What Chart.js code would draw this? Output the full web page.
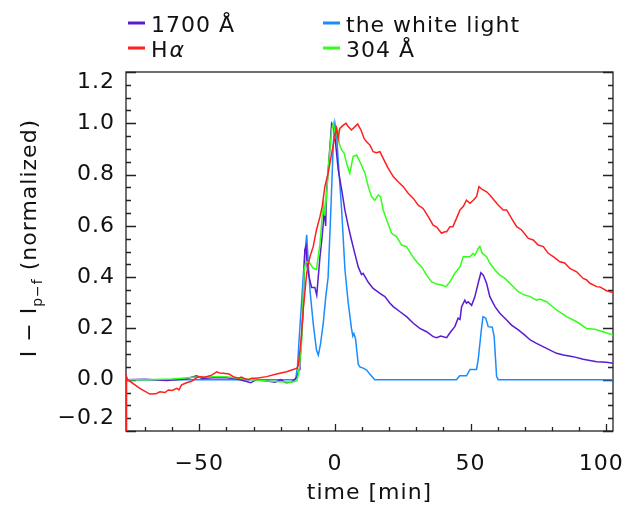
<!DOCTYPE html>
<html>
<head>
<meta charset="utf-8">
<script src="https://cdn.jsdelivr.net/npm/chart.js"></script>
<style>
  html, body { margin: 0; padding: 0; background: #fff; }
  #wrap { width: 630px; height: 508px; }
</style>
</head>
<body>
<div id="wrap"><canvas id="flare" width="630" height="508"></canvas></div>
<script>
// time [min] and normalized intensity
const t1700 = [-77, -70, -62, -55, -51, -49, -45, -40, -36, -31, -29, -25, -22, -20, -18, -16, -14, -13.2, -12.9, -11.7, -11.1, -10.6, -10.2, -9.5, -8.6, -7.4, -6.7, -5.5, -4.7, -3.9, -3.4, -3.1, -2.2, -1.2, -0.5, 0, 1.2, 2.5, 3.7, 4.9, 6.1, 7.4, 8.6, 9.8, 10.4, 12.3, 14.1, 16.6, 18.4, 20.3, 21.5, 24, 26.4, 28.9, 31.3, 33.8, 36.2, 37.5, 39, 41.2, 42.4, 44.2, 45.4, 46.1, 46.7, 47.9, 48.5, 49.1, 50.4, 51.6, 52.8, 53.8, 54.7, 55.9, 57.1, 59, 60.8, 63.3, 65.1, 67.6, 70, 72, 74.3, 78, 81.7, 84.2, 87.8, 91.5, 96.5, 100.1, 102.5];
const i1700 = [0, 0.002, -0.003, 0.003, 0.015, 0.005, 0.008, 0.008, 0.003, -0.012, 0, -0.005, -0.01, 0, -0.012, -0.01, 0.01, 0.04, 0.065, 0.27, 0.505, 0.52, 0.44, 0.40, 0.36, 0.36, 0.33, 0.48, 0.56, 0.66, 0.60, 0.73, 0.857, 1.0, 0.99, 0.95, 0.82, 0.74, 0.66, 0.60, 0.545, 0.49, 0.44, 0.41, 0.415, 0.38, 0.356, 0.337, 0.324, 0.298, 0.285, 0.265, 0.246, 0.22, 0.20, 0.187, 0.168, 0.164, 0.17, 0.164, 0.183, 0.207, 0.24, 0.235, 0.285, 0.31, 0.298, 0.304, 0.29, 0.324, 0.376, 0.417, 0.408, 0.376, 0.324, 0.285, 0.259, 0.233, 0.213, 0.194, 0.174, 0.155, 0.142, 0.122, 0.103, 0.096, 0.09, 0.08, 0.07, 0.068, 0.064];

const tWhite = [-77, -14.5, -13.8, -13.3, -12.3, -11.2, -10.4, -9.8, -9.2, -8.0, -6.8, -6.1, -5.3, -4.3, -3.4, -2.5, -1.5, -0.6, 0, 0.6, 1.2, 2.5, 3.7, 4.9, 6.1, 6.6, 7.0, 7.6, 8.6, 9.2, 10.4, 11.7, 13, 14.7, 44.8, 46, 48.5, 49.8, 52.2, 52.8, 54.1, 54.6, 55.6, 56.5, 58, 58.7, 59.6, 60.2, 102.5];
const iWhite = [0, 0, 0.05, 0.14, 0.30, 0.48, 0.565, 0.45, 0.35, 0.22, 0.116, 0.096, 0.14, 0.22, 0.32, 0.40, 0.66, 0.92, 1.0, 0.96, 0.857, 0.66, 0.43, 0.30, 0.20, 0.17, 0.18, 0.16, 0.06, 0.05, 0.045, 0.038, 0.02, 0, 0, 0.015, 0.015, 0.04, 0.04, 0.077, 0.207, 0.246, 0.24, 0.207, 0.205, 0.168, 0.012, 0, 0];

const tHalpha = [-77, -76.8, -76.4, -71.9, -68.2, -66, -64.5, -62.6, -61.4, -60, -58.3, -57.5, -56.5, -54.7, -52.8, -50.4, -48, -45.4, -43.6, -42.5, -41.2, -39, -37.5, -35.6, -34.5, -33.2, -31.9, -30.7, -28.9, -25.2, -21.5, -17.8, -15.4, -14.1, -13.5, -12.5, -11.7, -10.4, -9.2, -8.0, -6.8, -5.5, -4.7, -3.7, -2.5, -1.2, 0, 0.6, 1.2, 1.8, 3.1, 4.1, 4.9, 6.1, 7.4, 8.4, 9.6, 10.8, 11.7, 12.9, 14.1, 15.3, 16.6, 17.8, 19.6, 21.5, 23.3, 25.2, 27, 28.9, 30.7, 32.5, 34.4, 36.2, 37.5, 39.3, 40.5, 41.2, 42.4, 43.5, 44.8, 46.1, 47.3, 48.5, 49.8, 51, 52.2, 53.1, 54.3, 55.9, 57.1, 58.7, 60.2, 62, 63.3, 65.1, 67, 68.8, 71.3, 73.1, 74.9, 76.8, 78.6, 80.5, 82.9, 84.7, 86.6, 89.1, 91.5, 92.7, 94, 96.5, 97.7, 100.1, 102.5];
const iHalpha = [-0.3, 0.012, 0, -0.034, -0.056, -0.055, -0.047, -0.05, -0.04, -0.042, -0.034, -0.04, -0.02, -0.012, -0.006, 0.012, 0.01, 0.018, 0.031, 0.026, 0.025, 0.022, 0.012, 0.006, 0.01, 0.004, 0, 0.006, 0.006, 0.012, 0.022, 0.031, 0.04, 0.044, 0.055, 0.15, 0.27, 0.415, 0.48, 0.519, 0.584, 0.636, 0.675, 0.753, 0.805, 0.883, 0.948, 0.98, 0.94, 0.98, 0.993, 1.0, 0.987, 0.974, 0.987, 0.997, 0.974, 0.94, 0.928, 0.915, 0.889, 0.885, 0.889, 0.863, 0.825, 0.792, 0.772, 0.753, 0.727, 0.707, 0.681, 0.668, 0.636, 0.603, 0.595, 0.571, 0.577, 0.577, 0.597, 0.597, 0.629, 0.662, 0.675, 0.70, 0.688, 0.70, 0.714, 0.753, 0.742, 0.733, 0.72, 0.70, 0.681, 0.662, 0.662, 0.629, 0.597, 0.584, 0.551, 0.545, 0.525, 0.519, 0.493, 0.48, 0.46, 0.455, 0.434, 0.421, 0.395, 0.39, 0.376, 0.363, 0.362, 0.347, 0.34];

const t304 = [-77, -70, -60, -52, -45, -40, -35, -30, -25, -20, -16, -14, -13.3, -12.3, -11.3, -10.7, -9.2, -8.0, -6.8, -5.5, -4.7, -4.1, -3.7, -3.1, -2.2, -1.2, -0.6, 0.3, 1.0, 1.6, 2.5, 3.4, 4.3, 5.5, 6.7, 8.0, 9.2, 11.1, 12.3, 13.5, 14.7, 16.0, 16.8, 17.8, 19.1, 20.9, 22.7, 24.6, 26.4, 28.3, 30.1, 32, 33.8, 35.6, 37.5, 39.3, 40.9, 42.4, 44.2, 46.1, 47.3, 48.5, 49.8, 51, 51.6, 52.8, 53.4, 54.3, 55.9, 57.1, 59, 60.8, 62.7, 65.1, 67.6, 70, 72, 74.3, 75.5, 78, 81.7, 85.4, 89.1, 92.8, 95.8, 98.9, 102.5];
const i304 = [0, 0, 0.003, 0.01, 0.012, 0.012, 0.005, 0, -0.005, -0.008, -0.01, -0.005, 0.03, 0.142, 0.43, 0.46, 0.454, 0.434, 0.43, 0.53, 0.636, 0.688, 0.64, 0.714, 0.857, 0.974, 1.0, 0.95, 0.974, 0.92, 0.896, 0.883, 0.844, 0.805, 0.87, 0.876, 0.85, 0.805, 0.753, 0.714, 0.70, 0.72, 0.714, 0.662, 0.623, 0.571, 0.558, 0.525, 0.519, 0.486, 0.46, 0.44, 0.408, 0.382, 0.373, 0.369, 0.363, 0.382, 0.415, 0.44, 0.48, 0.48, 0.48, 0.493, 0.485, 0.512, 0.52, 0.493, 0.48, 0.454, 0.428, 0.408, 0.395, 0.369, 0.343, 0.33, 0.324, 0.31, 0.315, 0.304, 0.272, 0.246, 0.226, 0.20, 0.197, 0.187, 0.174];

const xTicks = [-50, 0, 50, 100];
const yTicks = [-0.2, 0, 0.2, 0.4, 0.6, 0.8, 1.0, 1.2];

const colors = { c1700: '#5a1cd2', white: '#1a8cff', halpha: '#ff1f1f', c304: '#33ff1a' };
const FONT = '22px "DejaVu Sans"';

function pairs(ts, vs) {
    return ts.map((t, k) => ({ x: t, y: vs[k] }));
}

function fmtNum(v, digits) {
    return v.toFixed(digits).replace('-', '\u2212');
}

// frame, inward ticks, labels, titles and legend
const decorPlugin = {
    id: 'decor',
    beforeDatasetsDraw(chart) {
        const { ctx, chartArea: a, scales: { x, y } } = chart;
        ctx.save();
        ctx.strokeStyle = '#222';
        ctx.lineWidth = 1.3;
        ctx.strokeRect(a.left, a.top, a.right - a.left, a.bottom - a.top);
        ctx.beginPath();
        for (let v = -70; v <= 100; v += 10) {
            const px = Math.round(x.getPixelForValue(v)) + 0.5;
            const len = v % 50 === 0 ? 7 : 4;
            ctx.moveTo(px, a.bottom);
            ctx.lineTo(px, a.bottom - len);
        }
        for (let k = -4; k <= 24; k++) {
            const py = Math.round(y.getPixelForValue(k * 0.05)) + 0.5;
            const len = k % 4 === 0 ? 10 : 5;
            ctx.moveTo(a.left, py);
            ctx.lineTo(a.left + len, py);
            ctx.moveTo(a.right, py);
            ctx.lineTo(a.right - len, py);
        }
        ctx.stroke();
        ctx.restore();
    },
    afterDraw(chart) {
        const { ctx, chartArea: a, scales: { x, y } } = chart;
        ctx.save();
        ctx.fillStyle = '#111';
        ctx.font = FONT;
        ctx.letterSpacing = '1px';

        // y tick labels (the end ones sit inside the box like the original)
        ctx.textAlign = 'right';
        ctx.textBaseline = 'middle';
        yTicks.forEach((v, k) => {
            let py = y.getPixelForValue(v);
            if (k === 0) py -= 13;
            if (k === yTicks.length - 1) py += 10;
            ctx.fillText(fmtNum(v, 1), 115, py);
        });

        // x tick labels
        ctx.textAlign = 'center';
        ctx.textBaseline = 'alphabetic';
        xTicks.forEach((v, k) => {
            let px = x.getPixelForValue(v);
            if (k === xTicks.length - 1) px -= 5;
            ctx.fillText(fmtNum(v, 0), px, 470);
        });

        // x title
        ctx.fillText('time [min]', (a.left + a.right) / 2, 499);

        // y title with subscript
        ctx.save();
        ctx.translate(36, 238);
        ctx.rotate(-Math.PI / 2);
        ctx.textAlign = 'left';
        const part1 = 'I \u2212 I', sub = 'p\u2212f', part2 = ' (normalized)';
        ctx.font = FONT;
        const w1 = ctx.measureText(part1).width;
        const w3 = ctx.measureText(part2).width;
        ctx.font = '14px "DejaVu Sans"';
        const w2 = ctx.measureText(sub).width;
        let sx = -(w1 + w2 + w3) / 2;
        ctx.font = FONT;
        ctx.fillText(part1, sx, 0);
        sx += w1;
        ctx.font = '14px "DejaVu Sans"';
        ctx.fillText(sub, sx, 6);
        sx += w2;
        ctx.font = FONT;
        ctx.fillText(part2, sx, 0);
        ctx.restore();

        // legend
        const items = [
            { color: colors.c1700, text: '1700 \u00c5', x: 128, y: 23 },
            { color: colors.halpha, text: 'H', greek: '\u03b1', x: 128, y: 48 },
            { color: colors.white, text: 'the white light', x: 323, y: 23 },
            { color: colors.c304, text: '304 \u00c5', x: 323, y: 48 }
        ];
        ctx.textAlign = 'left';
        ctx.textBaseline = 'alphabetic';
        items.forEach(it => {
            ctx.strokeStyle = it.color;
            ctx.lineWidth = 3;
            ctx.beginPath();
            ctx.moveTo(it.x, it.y);
            ctx.lineTo(it.x + 17, it.y);
            ctx.stroke();
            ctx.font = FONT;
            ctx.fillText(it.text, it.x + 23, it.y + 9);
            if (it.greek) {
                const w = ctx.measureText(it.text).width;
                ctx.font = 'italic 22px "DejaVu Sans"';
                ctx.fillText(it.greek, it.x + 23 + w + 1, it.y + 9);
            }
        });
        ctx.restore();
    }
};

function lineSet(label, ts, vs, color) {
    return {
        label: label,
        data: pairs(ts, vs),
        borderColor: color,
        backgroundColor: color,
        borderWidth: 1.5,
        pointRadius: 0,
        tension: 0,
        fill: false
    };
}

new Chart(document.getElementById('flare').getContext('2d'), {
    type: 'line',
    data: {
        datasets: [
            lineSet('H\u03b1', tHalpha, iHalpha, colors.halpha),
            lineSet('304 \u00c5', t304, i304, colors.c304),
            lineSet('1700 \u00c5', t1700, i1700, colors.c1700),
            lineSet('the white light', tWhite, iWhite, colors.white)
        ]
    },
    options: {
        responsive: false,
        animation: false,
        devicePixelRatio: 1,
        layout: { padding: { top: 72, right: 17, left: 0, bottom: 0 } },
        plugins: { legend: { display: false }, tooltip: { enabled: false } },
        scales: {
            x: {
                type: 'linear',
                min: -77,
                max: 102.5,
                grid: { display: false },
                border: { display: false },
                ticks: { display: false },
                afterBuildTicks: s => { s.ticks = xTicks.map(v => ({ value: v })); },
                afterFit: s => { s.height = 77; }
            },
            y: {
                type: 'linear',
                min: -0.2,
                max: 1.2,
                grid: { display: false },
                border: { display: false },
                ticks: { display: false },
                afterBuildTicks: s => { s.ticks = yTicks.map(v => ({ value: v })); },
                afterFit: s => { s.width = 126; }
            }
        }
    },
    plugins: [decorPlugin]
});
</script>
</body>
</html>
